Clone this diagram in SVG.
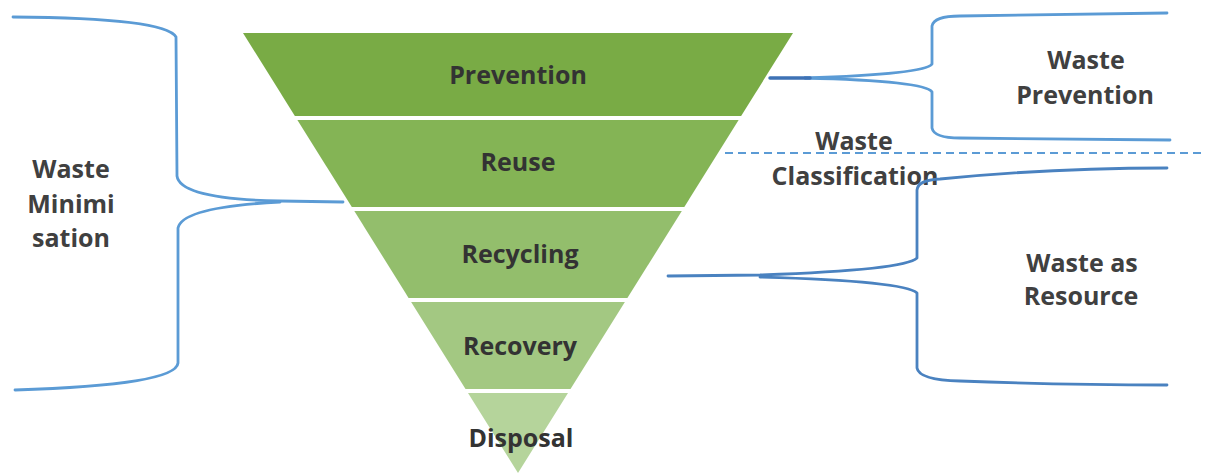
<svg xmlns="http://www.w3.org/2000/svg" width="1205" height="475" viewBox="0 0 1205 475">
<style>
.lbl{font-family:"Open Sans","Liberation Sans",sans-serif;font-weight:700;font-size:25px;fill:#333333;text-anchor:middle}
.side{fill:#404040}
.br{fill:none;stroke:#5b9bd5;stroke-width:2.8;stroke-linecap:round;stroke-linejoin:round}
.br2{fill:none;stroke:#4a82c0;stroke-width:2.8;stroke-linecap:round;stroke-linejoin:round}
.dash{fill:none;stroke:#5b9bd5;stroke-width:2;stroke-dasharray:8 5}
</style>
<rect width="1205" height="475" fill="#ffffff"/>
<g id="prevention">
<polygon points="243,33 793,33 741.1,116 294.9,116" fill="#79ab45"/>
<text class="lbl" x="518" y="84">Prevention</text>
</g>
<g id="reuse">
<polygon points="297.4,120 738.6,120 684.3,207 351.8,207" fill="#84b455"/>
<text class="lbl" x="518" y="171">Reuse</text>
</g>
<g id="recycling">
<polygon points="354.3,211 681.8,211 627.4,298 408.6,298" fill="#93be6c"/>
<text class="lbl" x="520" y="263">Recycling</text>
</g>
<g id="recovery">
<polygon points="411.1,302 624.9,302 570.5,389 465.5,389" fill="#a3c882"/>
<text class="lbl" x="520" y="355">Recovery</text>
</g>
<g id="disposal">
<polygon points="468,393 568,393 518,473" fill="#b5d49b"/>
<text class="lbl" x="521" y="447">Disposal</text>
</g>
<g id="waste-minimisation">
<text class="lbl side" x="71" y="178">Waste</text>
<text class="lbl side" x="71" y="213">Minimi</text>
<text class="lbl side" x="71" y="247">sation</text>
</g>
<g id="waste-prevention">
<text class="lbl side" x="1086" y="69">Waste</text>
<text class="lbl side" x="1085" y="104">Prevention</text>
</g>
<g id="waste-classification">
<text class="lbl side" x="854" y="150">Waste</text>
<text class="lbl side" x="855" y="185">Classification</text>
</g>
<g id="waste-as-resource">
<text class="lbl side" x="1082" y="272">Waste as</text>
<text class="lbl side" x="1081" y="305">Resource</text>
</g>
<g id="connectors">
<path class="br" d="M13,17 Q165,18 176,37 L177,176 Q180,199 280,201 L343,202"/>
<path class="br" d="M280,202 Q182,207 178,228 L178,363 Q176,385 15,390"/>
<path class="br" d="M805,78 Q926,74 932,64 L932,26 Q934,16 960,16 L1167,13"/>
<path class="br" d="M805,78 Q926,81 932,92 L932,128 Q934,138 960,138 L1170,140"/>
<path d="M770,78 L810,78" fill="none" stroke="#3e72b5" stroke-width="3.5" stroke-linecap="round"/>
<path class="dash" d="M725,153 L1205,153"/>
<path class="br2" d="M668,276 L760,275 Q905,270 917,258 L917,190 Q918,180 940,179 Q1050,168 1167,168"/>
<path class="br2" d="M760,277 Q905,281 917,293 L917,368 Q919,380 960,381 Q1060,385 1167,385"/>
</g>
</svg>
